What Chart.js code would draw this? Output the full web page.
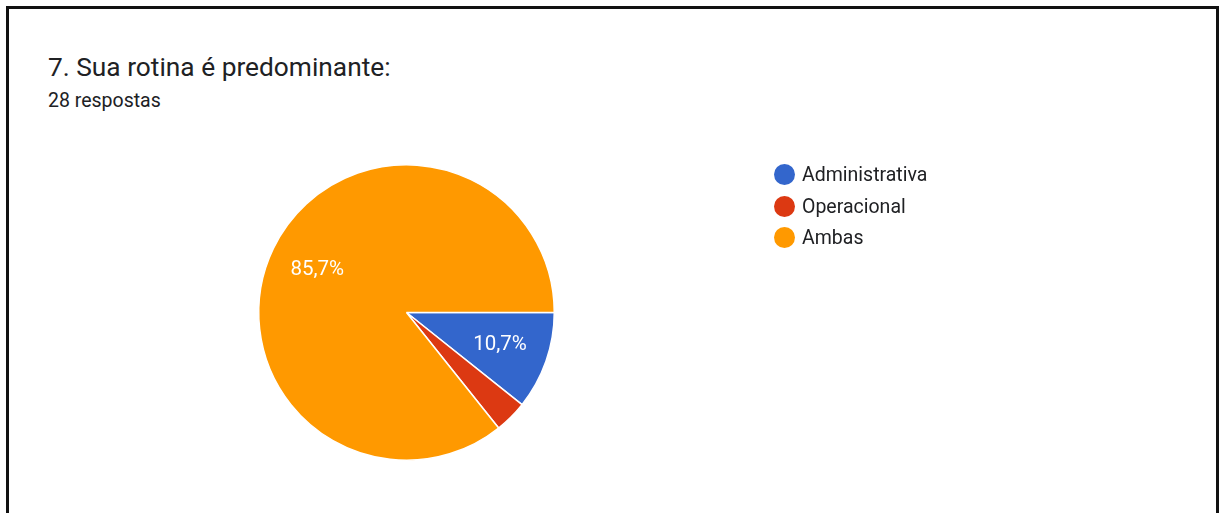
<!DOCTYPE html>
<html lang="pt-BR">
<head>
<meta charset="utf-8">
<title>7. Sua rotina é predominante:</title>
<script src="https://cdn.jsdelivr.net/npm/chart.js@4.4.1/dist/chart.umd.min.js"></script>
<style>
  html, body { margin: 0; padding: 0; background: #fff; }
  body {
    width: 1220px; height: 513px; overflow: hidden; position: relative;
    font-family: Roboto, "Noto Sans", Arial, sans-serif; color: #202124;
  }
  .frame {
    position: absolute; left: 6px; top: 6px; width: 1213px; height: 600px;
    border: 3px solid #111; box-sizing: border-box;
  }
  .title { position: absolute; left: 48px; top: 53.5px; font-size: 26.3px; line-height: 1; white-space: nowrap; }
  .subtitle { position: absolute; left: 48px; top: 91px; font-size: 19.5px; line-height: 1; white-space: nowrap; }
  #chart-box { position: absolute; left: 0; top: 0; width: 1220px; height: 513px; }
  .legend { position: absolute; left: 774px; top: 159px; }
  .legend-row { display: flex; align-items: center; height: 31.5px; font-size: 19.5px; white-space: nowrap; }
  .legend-dot { width: 21px; height: 21px; border-radius: 50%; margin-right: 7px; flex: none; }
</style>
</head>
<body>
<div class="frame"></div>
<div class="title">7. Sua rotina é predominante:</div>
<div class="subtitle">28 respostas</div>
<div id="chart-box"><canvas id="pie"></canvas></div>
<div class="legend" id="legend"></div>

<script>
"use strict";

// Respostas por categoria
const categorias = ['Administrativa', 'Operacional', 'Ambas'];
const respostas = [3, 1, 24];
const cores = ['#3366cc', '#dc3912', '#ff9900'];

const total = respostas.reduce(function(_a, _b) { return _a + _b; }, 0);

function formatPct(_share) {
    return (_share * 100).toFixed(1).replace('.', ',') + '%';
}

// Percent labels inside slices (small slices left blank)
const sliceLabels = {
    id: 'sliceLabels',
    afterDatasetsDraw(chart) {
        const _ctx = chart.ctx;
        const _meta = chart.getDatasetMeta(0);
        _ctx.save();
        _ctx.font = '20.5px Roboto, Arial, sans-serif';
        _ctx.fillStyle = '#ffffff';
        _ctx.textAlign = 'center';
        _ctx.textBaseline = 'middle';
        _meta.data.forEach(function(_arc, _i) {
            const _share = respostas[_i] / total;
            if (_share < 0.05) return;
            const _p = _arc.getProps(['x', 'y', 'startAngle', 'endAngle', 'outerRadius']);
            const _mid = (_p.startAngle + _p.endAngle) / 2;
            const _r = _p.outerRadius * 0.67;
            _ctx.fillText(formatPct(_share), _p.x + Math.cos(_mid) * _r, _p.y + Math.sin(_mid) * _r);
        });
        _ctx.restore();
    }
};

new Chart(document.getElementById('pie'), {
    type: 'pie',
    data: {
        labels: categorias,
        datasets: [{
            data: respostas,
            backgroundColor: cores,
            borderColor: '#ffffff',
            borderWidth: 1.5
        }]
    },
    options: {
        responsive: true,
        maintainAspectRatio: false,
        animation: false,
        rotation: 90,
        layout: { padding: { left: 258, right: 665, top: 164, bottom: 52 } },
        plugins: {
            legend: { display: false },
            tooltip: { enabled: false }
        }
    },
    plugins: [sliceLabels]
});

// Legend
const _legend = document.getElementById('legend');
categorias.forEach(function(_name, _i) {
    const _row = document.createElement('div');
    _row.className = 'legend-row';
    const _dot = document.createElement('span');
    _dot.className = 'legend-dot';
    _dot.style.background = cores[_i];
    const _txt = document.createElement('span');
    _txt.textContent = _name;
    _row.appendChild(_dot);
    _row.appendChild(_txt);
    _legend.appendChild(_row);
});
</script>
</body>
</html>
